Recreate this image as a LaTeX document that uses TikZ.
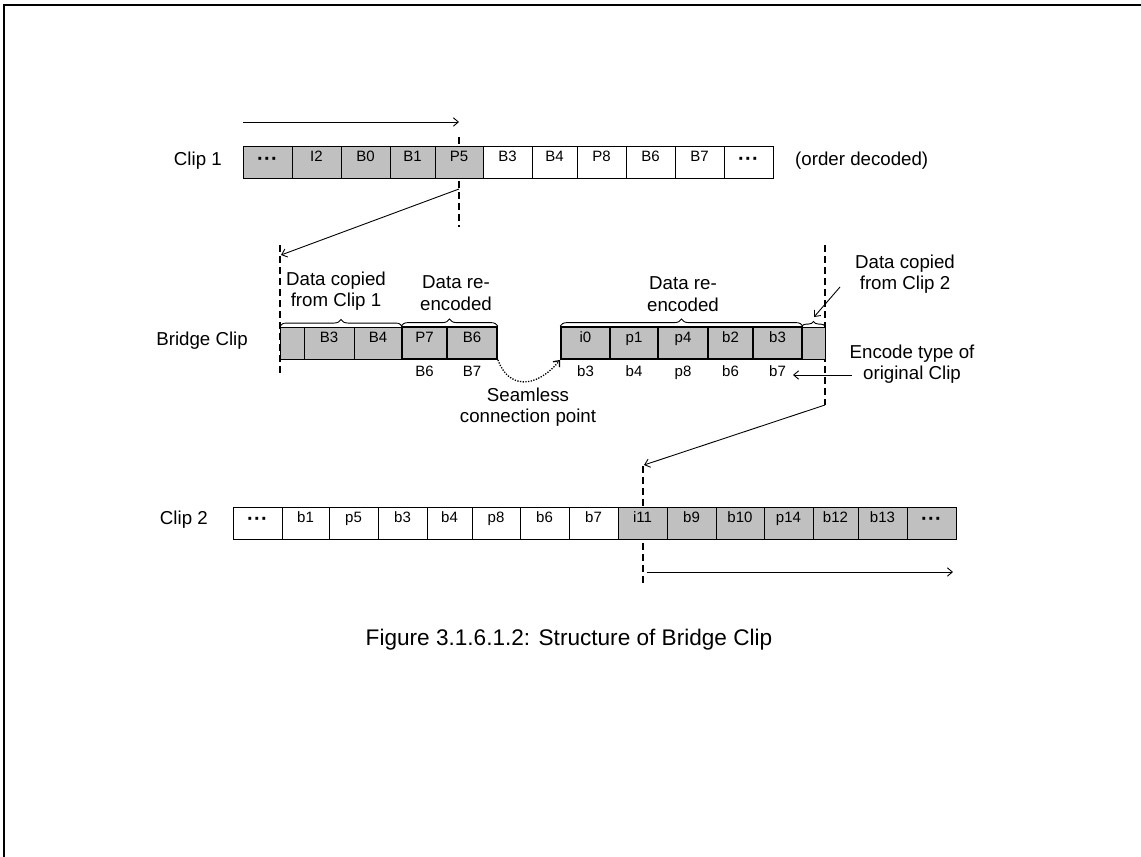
\documentclass[tikz,border=0pt]{standalone}
\usepackage{fontspec}
\setmainfont{Liberation Sans}
\usetikzlibrary{positioning,calc,arrows.meta,decorations.pathreplacing}
\definecolor{cellgray}{HTML}{C0C0C0}
\newcommand\clipdots{\raisebox{-3.5pt}{\fontsize{20}{20}\bfseries\selectfont ·\kern0.4pt·\kern0.4pt·}}
\tikzset{
  cell/.style={rectangle,draw,line width=0.9pt,minimum height=32pt,inner sep=0,
               text height=11pt,text depth=12.6pt,font=\fontsize{15}{18}\selectfont},
  done/.style={cell,fill=cellgray},
  % re-encoded pictures get a heavier border
  recoded/.style={done,line width=1.8pt},
  sublab/.style={inner sep=0,text height=11pt,text depth=3pt,font=\fontsize{15}{18}\selectfont},
  lab/.style={inner sep=0,font=\fontsize{18.7}{21.5}\selectfont},
  note/.style={lab,align=center},
  cut/.style={dash pattern=on 7pt off 4pt,line width=1.6pt},
  arrow/.style={-{Straight Barb[length=5pt,width=8.5pt]},line width=0.9pt},
  brace/.style={decorate,decoration={brace,amplitude=7pt},line width=0.9pt},
}

\begin{document}
\begin{tikzpicture}[x=1pt,y=-1pt]
  \useasboundingbox (0,0) rectangle (1141,857);
  \draw[line width=2pt] (4,857) -- (4,5) -- (1141,5);

  % cut lines, drawn first so the cells hide them
  \coordinate (cut1t) at (459,137);  \coordinate (cut1b) at (459,227);
  \coordinate (cut2t) at (280,245);  \coordinate (cut2b) at (280,373);
  \coordinate (cut3t) at (825,245);  \coordinate (cut3b) at (825,405);
  \coordinate (cut4t) at (643,466);  \coordinate (cut4b) at (643,583);
  \foreach \k in {1,...,4} { \draw[cut] (cut\k t) -- (cut\k b); }

  % Clip 1
  \foreach \l/\a/\b [count=\i] in {\clipdots/243/292,I2/292/341,B0/341/390,B1/390/435,P5/435/483} {
    \node[done,minimum width=\b-\a] (c1-\i) at ({(\a+\b)/2},162.5) {\l};
  }
  \foreach \l/\a/\b [count=\i from 6] in {B3/483/532,B4/532/577,P8/577/626,B6/626/675,B7/675/724,\clipdots/724/773} {
    \node[cell,minimum width=\b-\a] (c1-\i) at ({(\a+\b)/2},162.5) {\l};
  }
  \node[lab,anchor=east] (clip1) at (222,161) {Clip 1};
  \node[lab,anchor=west] (order) at (795,161) {(order decoded)};
  \coordinate (play1a) at (243,122);  \coordinate (play1b) at (459,122);
  \draw[arrow] (play1a) -- (play1b);

  % Bridge Clip
  \foreach \l/\a/\b [count=\i] in {{}/280/304,B3/304/354,B4/354/402} {
    \node[done,minimum width=\b-\a] (br-\i) at ({(\a+\b)/2},343) {\l};
  }
  \foreach \l/\a/\b [count=\i from 4] in {P7/402/447,B6/447/497,i0/561/610,p1/610/658,p4/658/708,b2/708/753,b3/753/802} {
    \node[recoded,minimum width=\b-\a] (br-\i) at ({(\a+\b)/2},343) {\l};
  }
  \node[done,minimum width=23] (br-11) at (813.5,343) {};
  \foreach \l [count=\i from 4] in {B6,B7,b3,b4,p8,b6,b7} {
    \node[sublab,below=5pt of br-\i] (org-\i) {\l};
  }
  \node[lab,anchor=east] (bridge) at (248,341) {Bridge Clip};

  \draw[brace] (br-1.north west) -- (br-3.north east);
  \draw[brace] (br-4.north west) -- (br-5.north east);
  \draw[brace] (br-6.north west) -- (br-10.north east);
  \draw[brace,decoration={amplitude=5pt}] (br-11.north west) -- (br-11.north east);
  \node[note] (copy1) at (336,291) {Data copied\\from Clip 1};
  \node[note] (enc1) at (456,293) {Data re-\\encoded};
  \node[note] (enc2) at (683,294) {Data re-\\encoded};
  \node[note] (copy2) at (905,274) {Data copied\\from Clip 2};
  \node[note] (type) at (912,364) {Encode type of\\original Clip};
  \node[note] (seam) at (528,407) {Seamless\\connection point};

  \coordinate (copy2a) at (840,287);  \coordinate (copy2b) at (814,317);
  \draw[arrow] (copy2a) -- (copy2b);
  \coordinate (typea) at (852,375);  \coordinate (typeb) at (793,375);
  \draw[arrow] (typea) -- (typeb);
  \draw[arrow,dash pattern=on 1.3pt off 1.4pt,line width=1.3pt]
    (br-5.south east) .. controls (508,388) and (535,390) .. (br-6.south west);

  % jumps between the clips
  \coordinate (jump1a) at (459,189);  \coordinate (jump1b) at (281,255);
  \draw[arrow] (jump1a) -- (jump1b);
  \coordinate (jump2a) at (825,405);  \coordinate (jump2b) at (644,465);
  \draw[arrow] (jump2a) -- (jump2b);

  % Clip 2
  \foreach \l/\a/\b [count=\i] in {\clipdots/233/282,b1/282/329,p5/329/378,b3/378/427,b4/427/472,p8/472/520,b6/520/569,b7/569/618} {
    \node[cell,minimum width=\b-\a] (c2-\i) at ({(\a+\b)/2},523) {\l};
  }
  \foreach \l/\a/\b [count=\i from 9] in {i11/618/667,b9/667/716,b10/716/764,p14/764/813,b12/813/858,b13/858/907,\clipdots/907/956} {
    \node[done,minimum width=\b-\a] (c2-\i) at ({(\a+\b)/2},523) {\l};
  }
  \node[lab,anchor=east] (clip2) at (208,520) {Clip 2};
  \coordinate (play2a) at (647,572);  \coordinate (play2b) at (953,572);
  \draw[arrow] (play2a) -- (play2b);

  \node[inner sep=0,font=\fontsize{22.6}{26}\selectfont] (caption) at (569,640) {Figure 3.1.6.1.2: Structure of Bridge Clip};
\end{tikzpicture}
\end{document}
